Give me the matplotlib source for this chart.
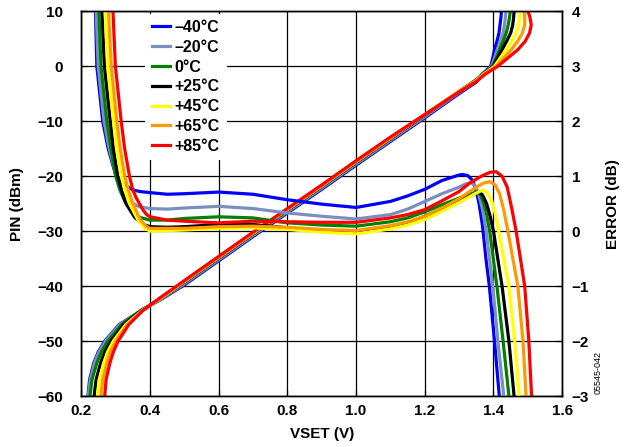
import numpy as np
import matplotlib
matplotlib.use('Agg')
import matplotlib.pyplot as plt

# Temperatures and colours
temps = ['–40°C', '–20°C', '0°C', '+25°C', '+45°C', '+65°C', '+85°C']
colors = ['#0000ff', '#7b8fbf', '#008000', '#000000', '#ffff00', '#ff9900', '#ff0000']

# ---- PIN (dBm) vs VSET, left axis ----
pin_low_lvls = [-61, -60, -57, -54, -52, -50, -47, -44.5]
pin_low_x = [
    [0.217, 0.219, 0.224, 0.236, 0.249, 0.268, 0.310, 0.373],
    [0.218, 0.220, 0.226, 0.238, 0.251, 0.270, 0.312, 0.373],
    [0.223, 0.225, 0.231, 0.245, 0.258, 0.277, 0.317, 0.372],
    [0.235, 0.237, 0.243, 0.256, 0.268, 0.286, 0.323, 0.374],
    [0.245, 0.247, 0.252, 0.265, 0.276, 0.293, 0.329, 0.376],
    [0.255, 0.257, 0.262, 0.274, 0.284, 0.300, 0.334, 0.377],
    [0.266, 0.268, 0.272, 0.283, 0.293, 0.307, 0.338, 0.378],
]
pin_mid_x = [0.43, 0.5, 0.6, 0.7, 0.8, 0.9, 1.0, 1.1, 1.2, 1.3, 1.35]
pin_mid = [
    [-42.5, -39.8, -35.4, -31.0, -26.7, -22.4, -18.0, -13.7, -9.4, -5.0, -2.9],
    [-42.4, -39.6, -35.2, -30.8, -26.5, -22.2, -17.8, -13.5, -9.2, -4.8, -2.7],
    [-42.3, -39.3, -34.9, -30.5, -26.2, -21.9, -17.5, -13.2, -8.9, -4.6, -2.5],
    [-42.3, -39.3, -34.9, -30.5, -26.2, -21.9, -17.5, -13.2, -8.9, -4.6, -2.5],
    [-42.3, -39.2, -34.8, -30.4, -26.1, -21.8, -17.4, -13.1, -8.8, -4.6, -2.6],
    [-42.2, -39.1, -34.7, -30.3, -26.0, -21.7, -17.3, -13.0, -8.8, -4.6, -2.7],
    [-42.1, -39.0, -34.6, -30.2, -25.9, -21.6, -17.2, -12.9, -8.8, -4.7, -2.8],
]
pin_high_lvls = [-1.5, 0, 1.5, 3, 4.5, 6, 7.5, 9, 10, 11]
pin_high_x = [
    [1.366, 1.392, 1.398, 1.403, 1.410, 1.416, 1.419, 1.422, 1.423, 1.425],
    [1.367, 1.395, 1.403, 1.411, 1.420, 1.428, 1.432, 1.435, 1.436, 1.438],
    [1.368, 1.398, 1.408, 1.418, 1.428, 1.437, 1.443, 1.447, 1.449, 1.451],
    [1.369, 1.400, 1.412, 1.425, 1.438, 1.450, 1.456, 1.459, 1.460, 1.461],
    [1.370, 1.403, 1.420, 1.437, 1.453, 1.466, 1.473, 1.476, 1.476, 1.476],
    [1.372, 1.408, 1.430, 1.452, 1.470, 1.484, 1.491, 1.491, 1.489, 1.487],
    [1.375, 1.413, 1.442, 1.471, 1.492, 1.505, 1.510, 1.506, 1.500, 1.496],
]

# ---- ERROR (dB) vs VSET, right axis ----
err_left_lvls = [4.5, 4, 3, 2, 1.5, 1]
err_left_x = [
    [0.239, 0.241, 0.245, 0.262, 0.278, 0.301],
    [0.241, 0.243, 0.249, 0.266, 0.281, 0.302],
    [0.249, 0.251, 0.257, 0.274, 0.286, 0.300],
    [0.258, 0.260, 0.267, 0.284, 0.293, 0.306],
    [0.267, 0.269, 0.277, 0.294, 0.303, 0.316],
    [0.277, 0.279, 0.287, 0.303, 0.313, 0.326],
    [0.290, 0.292, 0.299, 0.316, 0.326, 0.340],
]
err_knee_x = [
    [0.315, 0.330, 0.350, 0.370],
    [0.315, 0.330, 0.350, 0.370],
    [0.312, 0.326, 0.350, 0.370],
    [0.318, 0.330, 0.355, 0.380],
    [0.328, 0.340, 0.365, 0.385],
    [0.338, 0.350, 0.372, 0.390],
    [0.350, 0.360, 0.380, 0.390],
]
err_knee = [
    [0.90, 0.82, 0.75, 0.72],
    [0.75, 0.60, 0.50, 0.44],
    [0.75, 0.55, 0.35, 0.25],
    [0.72, 0.50, 0.25, 0.12],
    [0.72, 0.50, 0.20, 0.05],
    [0.72, 0.50, 0.20, 0.08],
    [0.75, 0.60, 0.38, 0.30],
]
err_mid_x = [0.4, 0.45, 0.5, 0.6, 0.7, 0.8, 0.9, 1.0, 1.1, 1.15, 1.2, 1.25, 1.3]
err_mid = [
    [0.70, 0.67, 0.68, 0.71, 0.67, 0.57, 0.49, 0.43, 0.54, 0.64, 0.76, 0.92, 1.02],
    [0.41, 0.40, 0.42, 0.45, 0.41, 0.33, 0.27, 0.22, 0.30, 0.40, 0.54, 0.68, 0.80],
    [0.20, 0.20, 0.23, 0.26, 0.24, 0.15, 0.11, 0.09, 0.17, 0.24, 0.35, 0.48, 0.60],
    [0.08, 0.07, 0.08, 0.12, 0.12, 0.06, 0.01, -0.03, 0.07, 0.15, 0.27, 0.41, 0.56],
    [0.00, 0.01, 0.02, 0.05, 0.06, 0.03, -0.02, -0.05, 0.04, 0.11, 0.21, 0.36, 0.52],
    [0.05, 0.05, 0.05, 0.08, 0.09, 0.07, 0.03, 0.01, 0.10, 0.17, 0.27, 0.42, 0.59],
    [0.26, 0.20, 0.18, 0.15, 0.18, 0.17, 0.16, 0.16, 0.24, 0.30, 0.39, 0.55, 0.72],
]
err_tail_x = [
    [1.31, 1.325, 1.338, 1.348, 1.358, 1.368, 1.378, 1.388, 1.403, 1.417, 1.42],
    [1.32, 1.335, 1.348, 1.358, 1.368, 1.379, 1.398, 1.413, 1.430, 1.434],
    [1.33, 1.350, 1.362, 1.372, 1.380, 1.389, 1.410, 1.428, 1.445, 1.449],
    [1.33, 1.357, 1.368, 1.380, 1.390, 1.400, 1.425, 1.445, 1.460, 1.464],
    [1.34, 1.369, 1.382, 1.395, 1.405, 1.415, 1.445, 1.462, 1.475, 1.479],
    [1.35, 1.370, 1.389, 1.405, 1.418, 1.430, 1.442, 1.471, 1.486, 1.495, 1.498],
    [1.33, 1.365, 1.390, 1.408, 1.425, 1.440, 1.453, 1.466, 1.491, 1.503, 1.511, 1.513],
]
err_tail = [
    [1.03, 1.01, 0.93, 0.78, 0.50, 0.10, -0.5, -1, -2, -3, -3.3],
    [0.86, 0.88, 0.82, 0.65, 0.40, 0.0, -1, -2, -3, -3.3],
    [0.67, 0.71, 0.66, 0.50, 0.30, 0.0, -1, -2, -3, -3.3],
    [0.64, 0.71, 0.66, 0.50, 0.28, 0.0, -1, -2, -3, -3.3],
    [0.66, 0.75, 0.70, 0.55, 0.32, 0.0, -1, -2, -3, -3.3],
    [0.80, 0.87, 0.90, 0.84, 0.68, 0.38, 0.0, -1, -2, -3, -3.3],
    [0.87, 1.00, 1.07, 1.08, 1.00, 0.80, 0.42, 0.0, -1, -2, -3, -3.3],
]

plt.rcParams['font.family'] = ['Liberation Sans', 'DejaVu Sans']
plt.rcParams['font.weight'] = 'bold'
plt.rcParams['axes.labelweight'] = 'bold'

fig = plt.figure(figsize=(6.26, 4.47), dpi=100)
ax = fig.add_axes([0.130, 0.114, 0.768, 0.861])
ax2 = ax.twinx()

lw = 2.3
for i in range(len(temps)):
    px = pin_low_x[i] + pin_mid_x + pin_high_x[i]
    py = pin_low_lvls + pin_mid[i] + pin_high_lvls
    ax.plot(px, py, color=colors[i], lw=lw, solid_joinstyle='round')

lines = []
for i in range(len(temps)):
    ex = err_left_x[i] + err_knee_x[i] + err_mid_x + err_tail_x[i]
    ey = err_left_lvls + err_knee[i] + err_mid[i] + err_tail[i]
    ln, = ax2.plot(ex, ey, color=colors[i], lw=lw, solid_joinstyle='round', label=temps[i])
    lines.append(ln)

ax.set_xlim(0.2, 1.6)
ax.set_ylim(-60, 10)
ax2.set_ylim(-3, 4)
ax.set_xticks(np.arange(0.2, 1.61, 0.2))
ax.set_xticklabels(['0.2', '0.4', '0.6', '0.8', '1.0', '1.2', '1.4', '1.6'])
ax.set_yticks(range(-60, 11, 10))
ax2.set_yticks(range(-3, 5))

ax.grid(True, color='black', lw=0.9)
for a in (ax, ax2):
    a.tick_params(direction='in', length=4, width=0.9, labelsize=11)
    for s in a.spines.values():
        s.set_linewidth(1.0)
ax.tick_params(axis='y', pad=13)
ax.tick_params(axis='x', pad=6)
ax2.tick_params(axis='y', pad=7)

ax.set_xlabel('VSET (V)', fontsize=11, labelpad=6)
ax.set_ylabel('PIN (dBm)', fontsize=11, labelpad=10)
ax2.set_ylabel('ERROR (dB)', fontsize=11, labelpad=12)

leg = ax2.legend(handles=lines, loc='upper left', bbox_to_anchor=(0.128, 1.0),
                 frameon=True, fancybox=False, framealpha=1, facecolor='white',
                 edgecolor='none', fontsize=11.5, handlelength=1.15, handletextpad=0.3,
                 labelspacing=0.3, borderpad=0.4, borderaxespad=0.15)

fig.text(0.956, 0.118, '05545-042', rotation=90, fontsize=6.5, fontweight='normal',
         ha='center', va='bottom')

fig.savefig('out.png', dpi=100)
